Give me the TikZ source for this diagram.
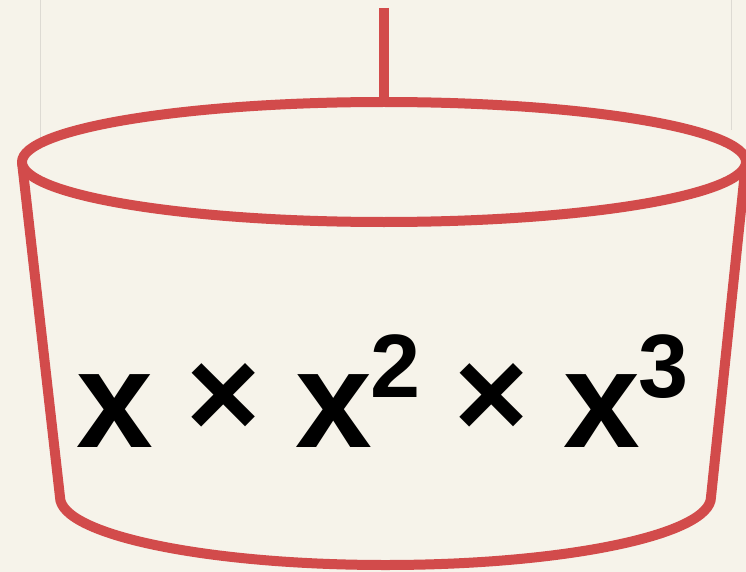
\documentclass[tikz,border=0pt]{standalone}
\usepackage{fontspec}
\usepackage{graphicx}
\setmainfont{Liberation Sans}
\definecolor{bktBg}{HTML}{F6F3EA}
\definecolor{bktRed}{HTML}{D24B4B}
\definecolor{bktGuide}{HTML}{DDDAD3}
\newcommand\bkttimes{\hspace{34pt}\raisebox{10pt}{\scalebox{0.92}{×}}\hspace{34pt}}
\newcommand\bktpow[1]{\hspace{-1pt}\raisebox{50pt}{\fontsize{90}{100}\selectfont #1}}
\tikzset{
  bktline/.style={draw=bktRed,line width=10pt,line join=round},
  bktguide/.style={draw=bktGuide,line width=1pt},
  bkttext/.style={font=\fontsize{138}{150}\selectfont\bfseries,inner sep=0pt,text=black,anchor=base west},
}

\begin{document}
\begin{tikzpicture}[x=1pt,y=-1pt]
  \fill[bktBg] (0,0) rectangle (746,572);
  \useasboundingbox (0,0) rectangle (746,572);

  % faint guide lines behind the bucket
  \coordinate (guideLtop) at (40,0);
  \coordinate (guideLbot) at (40,160);
  \coordinate (guideRtop) at (731,0);
  \coordinate (guideRbot) at (731,130);
  \draw[bktguide] (guideLtop) -- (guideLbot);
  \draw[bktguide] (guideRtop) -- (guideRbot);

  % the bucket
  \coordinate (rimC) at (384,162);
  \coordinate (rimTop) at (384,102);
  \coordinate (rimL) at (22,162);
  \coordinate (rimR) at (746,162);
  \coordinate (baseL) at (60,497);
  \coordinate (feed) at (384,8);
  \draw[bktline] (rimL) -- (baseL) arc[start angle=180,end angle=0,x radius=325.5,y radius=68]
                 -- (rimR);
  \draw[bktline,fill=bktBg] (rimC) ellipse [x radius=362,y radius=60];
  \draw[bktline] (feed) -- (rimTop);

  \node[bkttext] (expr) at (76,447) {x\bkttimes x\bktpow{2}\bkttimes x\bktpow{3}};
\end{tikzpicture}
\end{document}
